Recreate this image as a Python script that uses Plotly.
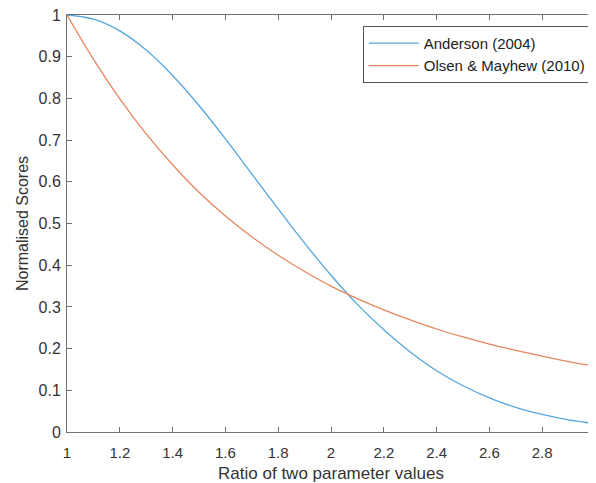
import plotly.graph_objects as go

ratio = [1.0, 1.1, 1.2, 1.3, 1.4, 1.5, 1.6, 1.7, 1.8, 1.9, 2.0,
         2.1, 2.2, 2.3, 2.4, 2.5, 2.6, 2.7, 2.8, 2.9, 3.0]
anderson = [1.000, 0.990, 0.962, 0.916, 0.855, 0.783, 0.703, 0.619, 0.535, 0.453, 0.376,
            0.306, 0.245, 0.192, 0.147, 0.111, 0.082, 0.059, 0.042, 0.029, 0.020]
olsen = [1.000, 0.894, 0.799, 0.715, 0.641, 0.575, 0.518, 0.468, 0.424, 0.385, 0.350,
         0.320, 0.293, 0.269, 0.247, 0.228, 0.211, 0.196, 0.182, 0.169, 0.158]

x_ticks = [1, 1.2, 1.4, 1.6, 1.8, 2, 2.2, 2.4, 2.6, 2.8, 3]
x_labels = ["1", "1.2", "1.4", "1.6", "1.8", "2", "2.2", "2.4", "2.6", "2.8", "3"]
y_ticks = [0, 0.1, 0.2, 0.3, 0.4, 0.5, 0.6, 0.7, 0.8, 0.9, 1]
y_labels = ["0", "0.1", "0.2", "0.3", "0.4", "0.5", "0.6", "0.7", "0.8", "0.9", "1"]

fig = go.Figure()
fig.add_trace(go.Scatter(x=ratio, y=anderson, mode="lines", name="Anderson (2004)",
                         line=dict(color="#55a6dd", width=1.3, shape="spline")))
fig.add_trace(go.Scatter(x=ratio, y=olsen, mode="lines", name="Olsen & Mayhew (2010)",
                         line=dict(color="#e6875f", width=1.3, shape="spline")))

axis_color = "#707070"
font_family = "Liberation Sans, Arial, sans-serif"

# the page body adds an 8 px offset; margins compensate for it
fig.update_layout(
    width=596, height=483,
    margin=dict(l=59, r=9, t=7, b=59, autoexpand=False),
    paper_bgcolor="white", plot_bgcolor="white",
    font=dict(family=font_family, size=14, color="#333333"),
    showlegend=True,
    legend=dict(x=0.992, y=0.974, xanchor="right", yanchor="top",
                bordercolor="#555555", borderwidth=1, bgcolor="white",
                font=dict(size=15, color="#222222"),
                tracegroupgap=0, itemwidth=50),
    xaxis=dict(range=[1, 3], tickvals=x_ticks, ticktext=x_labels, automargin=False,
               showgrid=False, zeroline=False, showline=True, linecolor=axis_color,
               linewidth=1, mirror="ticks", ticks="inside", ticklen=5,
               tickcolor=axis_color, tickfont=dict(size=15, color="#333333"),
               ticklabelstandoff=7, ticklabeloverflow="allow",
               title=dict(text="Ratio of two parameter values",
                          font=dict(size=17, color="#333333"), standoff=7)),
    yaxis=dict(range=[0, 1], tickvals=y_ticks, ticktext=y_labels, automargin=False,
               showgrid=False, zeroline=False, showline=True, linecolor=axis_color,
               linewidth=1, mirror="ticks", ticks="inside", ticklen=5,
               tickcolor=axis_color, tickfont=dict(size=16, color="#333333"),
               ticklabelstandoff=2, ticklabeloverflow="allow",
               title=dict(text="Normalised Scores",
                          font=dict(size=16, color="#333333"), standoff=5)),
)

fig.write_html("out.html")
